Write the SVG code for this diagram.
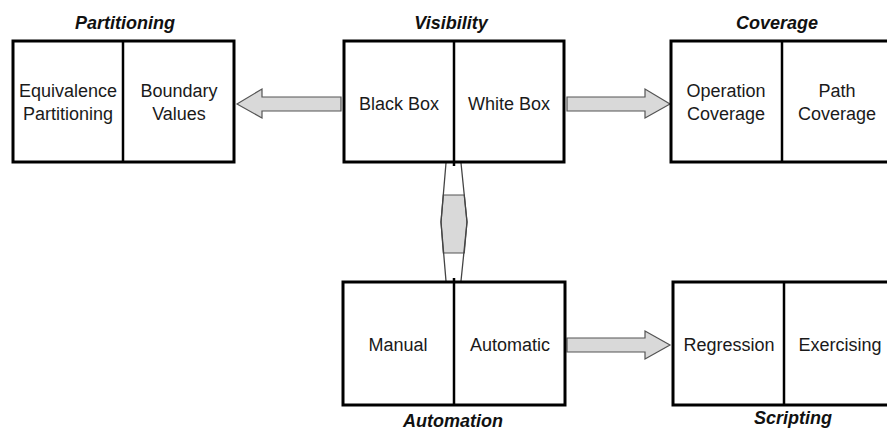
<svg xmlns="http://www.w3.org/2000/svg" width="887" height="430" viewBox="0 0 887 430">
<style>
.box{fill:#fff;stroke:#000;stroke-width:3}
.div{stroke:#000;stroke-width:2.5}
.t{font-family:"Liberation Sans",Arial,sans-serif;font-size:18px;fill:#1a1a1a;text-anchor:middle}
.h{font-family:"Liberation Sans",Arial,sans-serif;font-size:18px;font-weight:bold;font-style:italic;fill:#111;text-anchor:middle}
.arr{fill:#d9d9d9;stroke:#555;stroke-width:1.2;stroke-linejoin:miter}
.ln{fill:none;stroke:#444;stroke-width:1.3}
</style>
<rect width="887" height="430" fill="#fff"/>
<g id="connectors">
<polygon class="arr" points="341,97 262,97 262,89 237,104 262,118 262,111 341,111"/>
<polygon class="arr" points="567,97 645,97 645,89 670,104 645,118 645,111 567,111"/>
<polygon class="arr" points="567,338 645,338 645,331 670,345 645,359 645,352 567,352"/>
<polygon class="arr" points="443.3,195 464.3,195 467,222 464.3,253 443.3,253 441,222"/>
<path class="ln" d="M446,163 L441,222 L446,281 M461,163 L467,222 L461,281"/>
</g>
<g id="partitioning">
<text class="h" x="125" y="29">Partitioning</text>
<rect class="box" x="13" y="41" width="221" height="121"/>
<line class="div" x1="123" y1="41" x2="123" y2="162"/>
<text class="t" x="68" y="97">Equivalence</text>
<text class="t" x="68" y="120">Partitioning</text>
<text class="t" x="179" y="97">Boundary</text>
<text class="t" x="179" y="120">Values</text>
</g>
<g id="visibility">
<text class="h" x="451" y="29">Visibility</text>
<rect class="box" x="344" y="41" width="220" height="121"/>
<line class="div" x1="454" y1="41" x2="454" y2="166"/>
<text class="t" x="399" y="110">Black Box</text>
<text class="t" x="509" y="110">White Box</text>
</g>
<g id="coverage">
<text class="h" x="777" y="29">Coverage</text>
<rect class="box" x="671" y="41" width="222" height="121"/>
<line class="div" x1="782" y1="41" x2="782" y2="162"/>
<text class="t" x="726" y="97">Operation</text>
<text class="t" x="726" y="120">Coverage</text>
<text class="t" x="837" y="97">Path</text>
<text class="t" x="837" y="120">Coverage</text>
</g>
<g id="automation">
<rect class="box" x="343" y="282" width="222" height="123"/>
<line class="div" x1="454" y1="278" x2="454" y2="405"/>
<text class="t" x="398" y="351">Manual</text>
<text class="t" x="510" y="351">Automatic</text>
<text class="h" x="453" y="427">Automation</text>
</g>
<g id="scripting">
<rect class="box" x="673" y="282" width="222" height="123"/>
<line class="div" x1="784" y1="282" x2="784" y2="405"/>
<text class="t" x="729" y="351">Regression</text>
<text class="t" x="840" y="351">Exercising</text>
<text class="h" x="793" y="424">Scripting</text>
</g>
</svg>
